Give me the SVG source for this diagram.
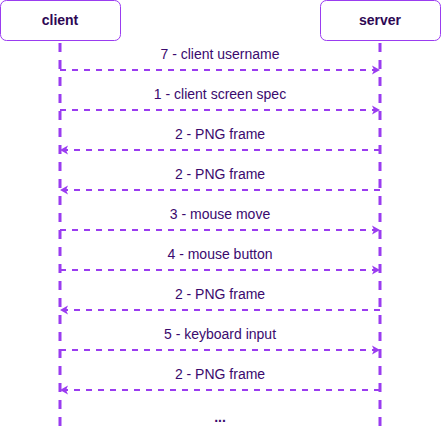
<svg xmlns="http://www.w3.org/2000/svg" width="441" height="433" viewBox="0 0 441 433">
<style>
.box{fill:#fff;stroke:#9a3cf0;stroke-width:1}
.actor{font-family:"Liberation Sans",Arial,sans-serif;font-size:14px;font-weight:bold;fill:#2e0854;text-anchor:middle}
.life{stroke:#9a3cf0;stroke-width:3;stroke-dasharray:9 8;fill:none}
.msg{stroke:#9a3cf0;stroke-width:2;stroke-dasharray:6 6;fill:none}
.lbl{font-family:"Liberation Sans",Arial,sans-serif;font-size:14px;fill:#3a0a6e;text-anchor:middle}
.head{fill:#9a3cf0}
</style>
<defs>
<path id="hr" class="head" d="M0,0 L-8,-4.5 L-6,0 L-8,4.5 Z"/>
<path id="hl" class="head" d="M0,0 L8,-4.5 L6,0 L8,4.5 Z"/>
</defs>
<g id="connectors">
<line class="life" x1="60" y1="43" x2="60" y2="433"/>
<line class="life" x1="380" y1="43" x2="380" y2="433"/>
<line class="msg" x1="60" y1="70" x2="374" y2="70"/><use href="#hr" x="380" y="70"/>
<line class="msg" x1="60" y1="110" x2="374" y2="110"/><use href="#hr" x="380" y="110"/>
<line class="msg" x1="380" y1="150" x2="66" y2="150"/><use href="#hl" x="60" y="150"/>
<line class="msg" x1="380" y1="190" x2="66" y2="190"/><use href="#hl" x="60" y="190"/>
<line class="msg" x1="60" y1="230" x2="374" y2="230"/><use href="#hr" x="380" y="230"/>
<line class="msg" x1="60" y1="270" x2="374" y2="270"/><use href="#hr" x="380" y="270"/>
<line class="msg" x1="380" y1="310" x2="66" y2="310"/><use href="#hl" x="60" y="310"/>
<line class="msg" x1="60" y1="350" x2="374" y2="350"/><use href="#hr" x="380" y="350"/>
<line class="msg" x1="380" y1="390" x2="66" y2="390"/><use href="#hl" x="60" y="390"/>
<text class="lbl" x="220" y="59">7 - client username</text>
<text class="lbl" x="220" y="99">1 - client screen spec</text>
<text class="lbl" x="220" y="139">2 - PNG frame</text>
<text class="lbl" x="220" y="179">2 - PNG frame</text>
<text class="lbl" x="220" y="219">3 - mouse move</text>
<text class="lbl" x="220" y="259">4 - mouse button</text>
<text class="lbl" x="220" y="299">2 - PNG frame</text>
<text class="lbl" x="220" y="339">5 - keyboard input</text>
<text class="lbl" x="220" y="379">2 - PNG frame</text>
<text class="lbl" x="220" y="422" font-weight="bold">...</text>
</g>
<g id="client">
<rect class="box" x="0.5" y="0.5" width="120" height="40" rx="6"/>
<text class="actor" x="60" y="25">client</text>
</g>
<g id="server">
<rect class="box" x="320.5" y="0.5" width="120" height="40" rx="6"/>
<text class="actor" x="380" y="25">server</text>
</g>
</svg>
